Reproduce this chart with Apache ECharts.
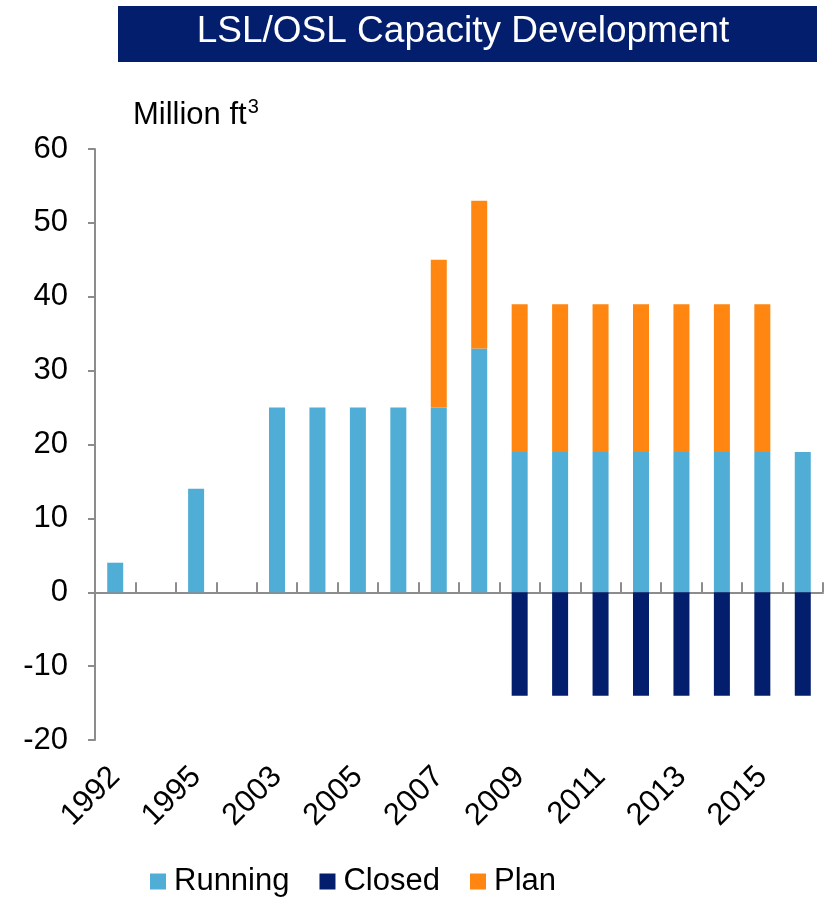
<!DOCTYPE html>
<html>
<head>
<meta charset="utf-8">
<script src="https://cdn.jsdelivr.net/npm/echarts@6/dist/echarts.min.js"></script>
<style>
  html, body { margin: 0; padding: 0; background: #fff; }
  #chart { width: 828px; height: 898px; }
</style>
</head>
<body>
<div id="chart"></div>
<script>
// data
const categories = ['1992', '1994', '1995', '2000', '2003', '2004', '2005', '2006', '2007',
  '2008', '2009', '2010', '2011', '2012', '2013', '2014', '2015', '2016']
const running = [4, null, 14, null, 25, 25, 25, 25, 25, 33, 19, 19, 19, 19, 19, 19, 19, 19]
const closed = [null, null, null, null, null, null, null, null, null, null,
  -14, -14, -14, -14, -14, -14, -14, -14]
const plan = [null, null, null, null, null, null, null, null, 20, 20,
  20, 20, 20, 20, 20, 20, 20, null]

const FONT = '"Liberation Sans", Arial, sans-serif'
const NAVY = '#021E6C'
const AXIS_GREY = '#8C8C8C'

// width of "Million ft" so the superscript sits right after it
function textWidth(txt, size) {
  const ctx = document.createElement('canvas').getContext('2d')
  ctx.font = size + 'px ' + FONT
  return ctx.measureText(txt).width
}

const unitSize = 31
const unitX = 133
const unitW = textWidth('Million ft', unitSize)

const chart = echarts.init(document.getElementById('chart'))

chart.setOption({
  animation: false,
  textStyle: { fontFamily: FONT },
  graphic: [
    {
      type: 'rect',
      shape: { x: 118, y: 6, width: 699, height: 56 },
      style: { fill: NAVY }
    },
    {
      type: 'text',
      x: 463, y: 32,
      style: {
        text: 'LSL/OSL Capacity Development',
        fill: '#fff', font: '37px ' + FONT,
        align: 'center', verticalAlign: 'middle'
      }
    },
    {
      type: 'text',
      x: unitX, y: 115,
      style: {
        text: 'Million ft', fill: '#000', font: unitSize + 'px ' + FONT,
        align: 'left', verticalAlign: 'middle'
      }
    },
    {
      type: 'text',
      x: unitX + unitW + 1, y: 107,
      style: {
        text: '3', fill: '#000', font: '20px ' + FONT,
        align: 'left', verticalAlign: 'middle'
      }
    }
  ],
  grid: { left: 95, right: 5, top: 149, bottom: 158, containLabel: false },
  legend: {
    left: 150,
    top: 866,
    padding: 0,
    icon: 'rect',
    itemWidth: 16,
    itemHeight: 16,
    itemGap: 30,
    textStyle: { fontSize: 31, color: '#000', fontFamily: FONT, padding: [0, 0, 0, 3] },
    data: ['Running', 'Closed', 'Plan']
  },
  xAxis: [
    {
      // zero line with the little ticks between categories
      type: 'category',
      data: categories,
      position: 'bottom',
      boundaryGap: true,
      axisLine: { onZero: true, lineStyle: { color: AXIS_GREY, width: 2 } },
      axisTick: { show: true, inside: true, length: 10, interval: 0, lineStyle: { color: AXIS_GREY, width: 2 } },
      axisLabel: { show: false },
      splitLine: { show: false }
    },
    {
      // year labels down at the bottom
      type: 'category',
      data: categories,
      position: 'bottom',
      boundaryGap: true,
      axisLine: { show: false, onZero: false },
      axisTick: { show: false },
      axisLabel: {
        interval: 1,
        rotate: 45,
        margin: 32,
        fontSize: 31,
        color: '#000',
        fontFamily: FONT
      },
      splitLine: { show: false }
    }
  ],
  yAxis: {
    type: 'value',
    min: -20,
    max: 60,
    interval: 10,
    axisLine: { show: true, lineStyle: { color: AXIS_GREY, width: 2 } },
    axisTick: { show: true, length: 7, lineStyle: { color: AXIS_GREY, width: 2 } },
    axisLabel: { fontSize: 31, color: '#000', margin: 27, fontFamily: FONT },
    splitLine: { show: false }
  },
  series: [
    {
      name: 'Running',
      type: 'bar',
      stack: 'cap',
      barWidth: 16,
      itemStyle: { color: '#4FADD6' },
      data: running
    },
    {
      name: 'Closed',
      type: 'bar',
      stack: 'cap',
      barWidth: 16,
      itemStyle: { color: NAVY },
      data: closed
    },
    {
      name: 'Plan',
      type: 'bar',
      stack: 'cap',
      barWidth: 16,
      itemStyle: { color: '#FF8610' },
      data: plan
    }
  ]
})
</script>
</body>
</html>
